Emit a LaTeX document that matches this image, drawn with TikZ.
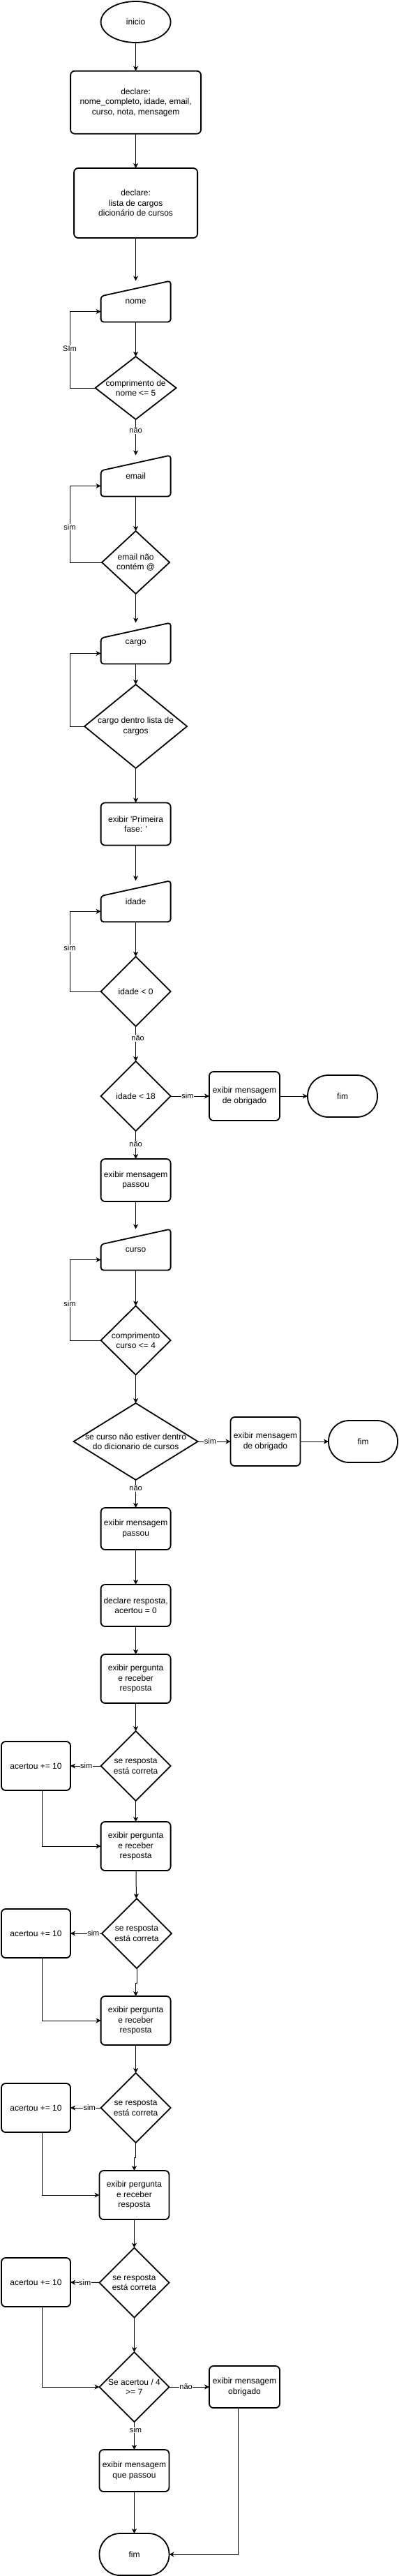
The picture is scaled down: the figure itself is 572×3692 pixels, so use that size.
\documentclass[tikz,border=0pt]{standalone}
\usepackage{fontspec}
\setmainfont{Liberation Sans}
\usetikzlibrary{shapes.geometric,arrows.meta,calc}
\begin{document}
\begin{tikzpicture}[x=1pt,y=-1pt,
  every node/.style={font=\fontsize{12}{14.4}\selectfont, inner sep=0pt, outer sep=0pt, align=center, text=black},
  shp/.style={draw=black, line width=1.8pt},
  proc/.style={shp, rectangle, rounded corners=6pt, minimum width=100pt, minimum height=60pt},
  term/.style={shp, rectangle, rounded corners=29.5pt, minimum width=100pt, minimum height=60pt},
  startnode/.style={shp, ellipse, minimum width=100pt, minimum height=59pt},
  inbox/.style={rectangle, minimum width=100pt, minimum height=59pt},
  dec/.style={rectangle, minimum width=100pt, minimum height=100pt},
  conn/.style={draw=black, line width=1pt, -{Stealth[length=7pt,width=7pt,inset=2pt]}},
  lab/.style={font=\fontsize{11}{13}\selectfont, fill=white, inner sep=0.6pt},
]
\fill[white] (0,0) rectangle (572,3692);
\useasboundingbox (0,0) rectangle (572,3692);
\def\cx{194.6}
\def\cy{192.5}
\coordinate (L) at (100,0);
\coordinate (A) at (60,0);
\coordinate (B) at (341,0);

% ---------- nodes ----------
\node[startnode] (inicio) at (\cx,31.5) {inicio};
\node[proc, minimum width=187pt, minimum height=90pt] (decl1) at (\cx,146.7) {declare:\\nome\_completo, idade, email,\\curso, nota, mensagem};
\node[proc, minimum width=177pt, minimum height=100pt] (decl2) at (\cx,291) {declare:\\lista de cargos\\dicionário de cursos};
\node[inbox] (nome) at (\cx,432) {nome};
\node[dec, minimum width=116pt, minimum height=90pt] (dn) at (\cx,556) {comprimento de\\nome <= 5};
\node[inbox] (email) at (\cx,682) {email};
\node[dec, minimum width=97pt, minimum height=90pt] (de) at (\cx,806) {email não\\contém @};
\node[inbox] (cargo) at (\cx,922) {cargo};
\node[dec, minimum width=147pt, minimum height=120pt] (dc) at (\cx,1041) {cargo dentro lista de\\cargos};
\node[proc, minimum height=61pt] (fase) at (\cx,1181) {exibir \textquotesingle Primeira\\fase: \textquotesingle};
\node[inbox] (idade) at (\cx,1291.7) {idade};
\node[dec] (d0) at (\cx,1421) {idade < 0};
\node[dec] (d18) at (\cx,1571) {idade < 18};
\node[proc, minimum width=101pt, minimum height=70pt] (obrig1) at (350.5,1571) {exibir mensagem\\de obrigado};
\node[term] (fim1) at (491,1571) {fim};
\node[proc, minimum height=61pt] (passou1) at (\cx,1691.5) {exibir mensagem\\passou};
\node[inbox] (curso) at (\cx,1791) {curso};
\node[dec, minimum height=99pt] (dcu) at (\cx,1921) {comprimento\\curso <= 4};
\node[dec, minimum width=178pt, minimum height=110pt] (dd) at (\cx,2066) {se curso não estiver dentro\\do dicionario de cursos};
\node[proc, minimum height=70pt] (obrig2) at (380.5,2066) {exibir mensagem\\de obrigado};
\node[term, minimum width=99pt] (fim2) at (520.5,2066) {fim};
\node[proc] (passou2) at (\cx,2191) {exibir mensagem\\passou};
\node[proc] (declresp) at (\cx,2301) {declare resposta,\\acertou = 0};
\node[proc, minimum height=70pt] (perg1) at (\cx,2406) {exibir pergunta\\e receber\\resposta};
\node[dec] (q1) at (\cx,2531) {se resposta\\está correta};
\node[proc, minimum width=99pt, minimum height=70pt] (ac1) at (51.5,2531) {acertou += 10};
\node[proc, minimum height=70pt] (perg2) at (\cx,2646) {exibir pergunta\\e receber\\resposta};
\node[dec] (q2) at (196,2771) {se resposta\\está correta};
\node[proc, minimum width=99pt, minimum height=70pt] (ac2) at (51.5,2771) {acertou += 10};
\node[proc, minimum height=70pt] (perg3) at (\cx,2896) {exibir pergunta\\e receber\\resposta};
\node[dec] (q3) at (\cx,3021) {se resposta\\está correta};
\node[proc, minimum width=99pt, minimum height=70pt] (ac3) at (51.5,3021) {acertou += 10};
\node[proc, minimum height=70pt] (perg4) at (\cy,3146) {exibir pergunta\\e receber\\resposta};
\node[dec] (q4) at (\cy,3271.5) {se resposta\\está correta};
\node[proc, minimum width=99pt, minimum height=70pt] (ac4) at (51.5,3271) {acertou += 10};
\node[dec] (qf) at (\cy,3421) {Se acertou / 4\\>= 7};
\node[proc, minimum width=101pt] (obrig3) at (350.5,3421) {exibir mensagem\\obrigado};
\node[proc] (passou3) at (\cy,3541) {exibir mensagem\\que passou};
\node[term] (fim3) at (\cy,3661) {fim};

% ---------- shape outlines ----------
\foreach \n in {dn,de,dc,d0,d18,dcu,dd,q1,q2,q3,q4,qf}
  \draw[shp, line join=miter] (\n.north) -- (\n.east) -- (\n.south) -- (\n.west) -- cycle;
\foreach \n in {nome,email,cargo,idade,curso}
  \draw[shp, rounded corners=4pt] ($(\n.north west)+(0,22)$) -- (\n.north east) -- (\n.south east) -- (\n.south west) -- cycle;
\coordinate (nomeIn) at ($(nome.north west)+(0,44)$);
\coordinate (emailIn) at ($(email.north west)+(0,44)$);
\coordinate (cargoIn) at ($(cargo.north west)+(0,44)$);
\coordinate (idadeIn) at ($(idade.north west)+(0,44)$);
\coordinate (cursoIn) at ($(curso.north west)+(0,44)$);

% ---------- connectors ----------
\draw[conn] (inicio) -- (decl1);
\draw[conn] (decl1) -- (decl2);
\draw[conn] (decl2) -- (nome);
\draw[conn] (nome) -- (dn);
\draw[conn] (dn) -- node[lab, pos=0.31] {não} (email);
\draw[conn] (dn.west) -- (dn.west -| L) |- node[lab, pos=0.257] {SIm} (nomeIn);
\draw[conn] (email) -- (de);
\draw[conn] (de.west) -- (de.west -| L) |- node[lab, pos=0.23] {sim} (emailIn);
\draw[conn] (de) -- (cargo);
\draw[conn] (cargo) -- (dc);
\draw[conn] (dc.west) -- (dc.west -| L) |- (cargoIn);
\draw[conn] (dc) -- (fase);
\draw[conn] (fase) -- (idade);
\draw[conn] (idade) -- (d0);
\draw[conn] (d0.west) -- (d0.west -| L) |- node[lab, pos=0.27] {sim} (idadeIn);
\draw[conn] (d0) -- node[lab, pos=0.34, xshift=3pt] {não} (d18);
\draw[conn] (d18) -- node[lab, pos=0.44] {sim} (obrig1);
\draw[conn] (obrig1) -- (fim1);
\draw[conn] (d18) -- node[lab, pos=0.475] {não} (passou1);
\draw[conn] (passou1) -- (curso);
\draw[conn] (curso) -- (dcu);
\draw[conn] (dcu.west) -- (dcu.west -| L) |- node[lab, pos=0.226] {sim} (cursoIn);
\draw[conn] (dcu) -- (dd);
\draw[conn] (dd) -- node[lab, pos=0.38] {sim} (obrig2);
\draw[conn] (obrig2) -- (fim2);
\draw[conn] (dd) -- node[lab, pos=0.3] {não} (passou2);
\draw[conn] (passou2) -- (declresp);
\draw[conn] (declresp) -- (perg1);
\draw[conn] (perg1) -- (q1);
\draw[conn] (q1) -- node[lab, pos=0.48] {sim} (ac1);
\draw[conn] (q1) -- (perg2);
\draw[conn] (ac1.south -| A) |- (perg2.west);
\draw[conn] (perg2) -- (q2);
\draw[conn] (q2) -- node[lab, pos=0.27] {sim} (ac2);
\draw[conn] (q2.south) -- ++(0,21) -| (perg3.north);
\draw[conn] (ac2.south -| A) |- (perg3.west);
\draw[conn] (perg3) -- (q3);
\draw[conn] (q3) -- node[lab, pos=0.375] {sim} (ac3);
\draw[conn] (q3.south) -- ++(0,21) -| (perg4.north);
\draw[conn] (ac3.south -| A) |- (perg4.west);
\draw[conn] (perg4) -- (q4);
\draw[conn] (q4) -- node[lab, pos=0.5] {sim} (ac4);
\draw[conn] (q4) -- (qf);
\draw[conn] (ac4.south -| A) |- (qf.west);
\draw[conn] (qf) -- node[lab, pos=0.42] {não} (obrig3);
\draw[conn] (qf) -- node[lab, pos=0.28, xshift=2pt] {sim} (passou3);
\draw[conn] (passou3) -- (fim3);
\draw[conn] (obrig3.south -| B) |- (fim3.east);
\end{tikzpicture}
\end{document}
